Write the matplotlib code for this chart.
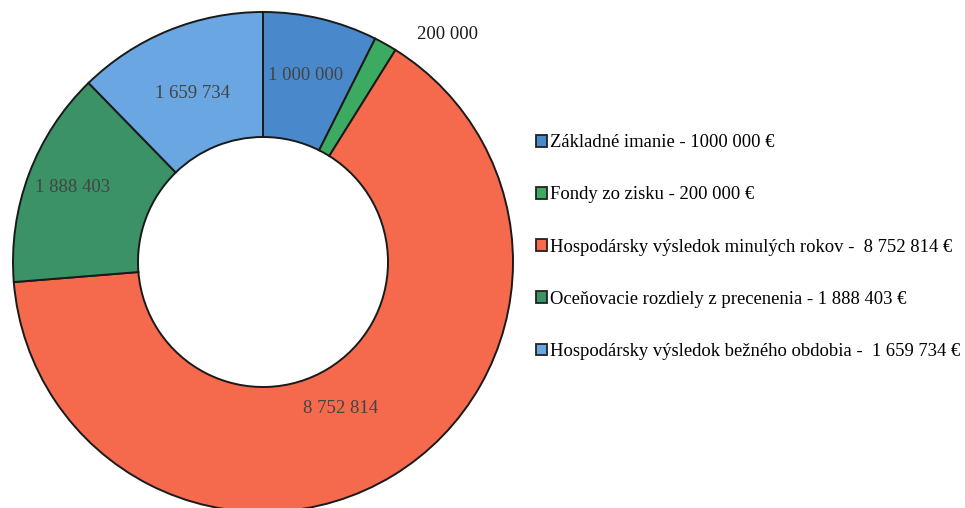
import matplotlib.pyplot as plt

# equity structure (EUR)
names = ['Základné imanie', 'Fondy zo zisku', 'Hospodársky výsledok minulých rokov',
         'Oceňovacie rozdiely z precenenia', 'Hospodársky výsledok bežného obdobia']
values = [1000000, 200000, 8752814, 1888403, 1659734]
slice_labels = ['1 000 000', '200 000', '8 752 814', '1 888 403', '1 659 734']
legend_labels = ['Základné imanie - 1000 000 €',
                 'Fondy zo zisku - 200 000 €',
                 'Hospodársky výsledok minulých rokov -  8 752 814 €',
                 'Oceňovacie rozdiely z precenenia - 1 888 403 €',
                 'Hospodársky výsledok bežného obdobia -  1 659 734 €']
colors = ['#4a88cc', '#3daa62', '#f5694c', '#3a9266', '#6aa6e2']

plt.rcParams['font.family'] = ['Liberation Serif', 'DejaVu Serif']

fig = plt.figure(figsize=(9.65, 5.08), dpi=100)
ax = fig.add_axes([13 / 965, -4 / 508, 500 / 965, 500 / 508])

wedges, texts = ax.pie(values, radius=1, startangle=90, counterclock=False,
                       colors=colors,
                       wedgeprops=dict(width=0.5, edgecolor='#1a1a1a', linewidth=1.4))
ax.set_aspect('equal')
ax.set_xlim(-1, 1)
ax.set_ylim(-1, 1)

# label positions in data coords
label_pos = [(0.17, 0.745), (0.74, 0.91), (0.31, -0.585), (-0.76, 0.3), (-0.28, 0.675)]
for i, (lab, (x, y)) in enumerate(zip(slice_labels, label_pos)):
    col = '#1a1a1a' if i == 1 else '#444444'
    ax.text(x, y, lab, ha='center', va='center', fontsize=13.5, color=col)

leg = fig.legend(wedges, legend_labels, loc='upper left', bbox_to_anchor=(0.546, 0.754),
                 frameon=False, fontsize=13.4, handlelength=0.6, handleheight=0.6,
                 handletextpad=0.12, labelspacing=1.89, borderpad=0)
for h in leg.legend_handles:
    h.set_edgecolor('#222222')
    h.set_linewidth(1.3)

fig.savefig('out.png', dpi=100)
